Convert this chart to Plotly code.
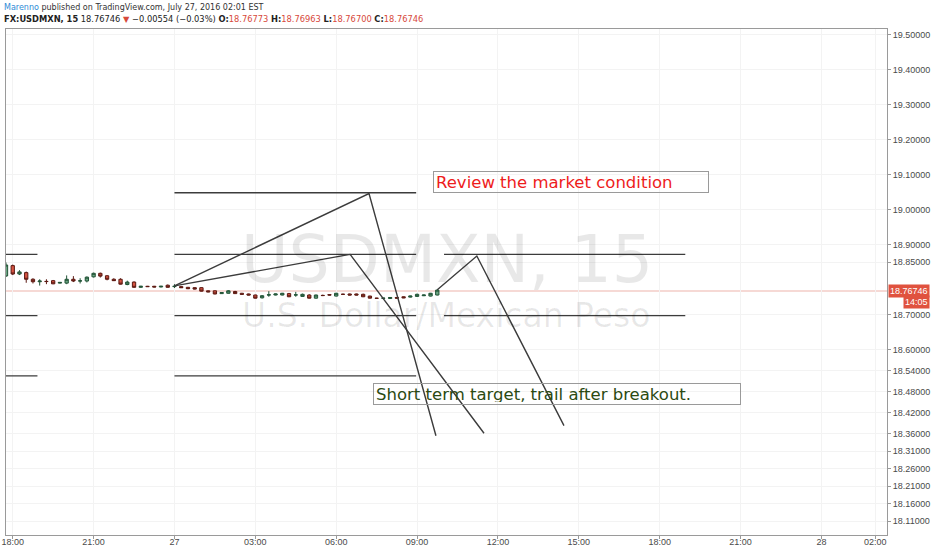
import plotly.graph_objects as go
import pandas as pd

# 15-minute USDMXN candles, Jul 26 17:45 -> Jul 27 09:45
bar_start = "2016-07-26 17:45"
opens = [18.8104, 18.840, 18.816, 18.820, 18.801, 18.794, 18.795, 18.797, 18.790, 18.790,
         18.801, 18.796, 18.796, 18.808, 18.818, 18.811, 18.801, 18.801, 18.786, 18.793,
         18.778, 18.781, 18.781, 18.779, 18.784, 18.780, 18.780, 18.778, 18.777, 18.777,
         18.768, 18.768, 18.760, 18.761, 18.766, 18.761, 18.759, 18.756, 18.748, 18.756,
         18.756, 18.756, 18.760, 18.756, 18.752, 18.756, 18.747, 18.755, 18.757, 18.753,
         18.758, 18.759, 18.759, 18.758, 18.753, 18.747, 18.7465, 18.746, 18.749, 18.751,
         18.750, 18.752, 18.754, 18.753, 18.756]
highs = [18.8490, 18.843, 18.827, 18.823, 18.804, 18.801, 18.801, 18.799, 18.793, 18.812,
         18.810, 18.804, 18.809, 18.820, 18.820, 18.813, 18.804, 18.804, 18.797, 18.795,
         18.782, 18.782, 18.782, 18.782, 18.786, 18.787, 18.781, 18.779, 18.778, 18.778,
         18.769, 18.769, 18.764, 18.770, 18.768, 18.762, 18.760, 18.757, 18.756, 18.767,
         18.760, 18.762, 18.762, 18.765, 18.760, 18.758, 18.757, 18.757, 18.758, 18.762,
         18.760, 18.760, 18.760, 18.760, 18.754, 18.748, 18.748, 18.750, 18.750, 18.752,
         18.754, 18.760, 18.757, 18.762, 18.773]
lows = [18.8075, 18.813, 18.813, 18.791, 18.789, 18.783, 18.787, 18.787, 18.789, 18.787,
        18.793, 18.789, 18.792, 18.806, 18.806, 18.798, 18.796, 18.786, 18.784, 18.777,
        18.777, 18.779, 18.778, 18.778, 18.777, 18.776, 18.776, 18.773, 18.772, 18.766,
        18.764, 18.758, 18.759, 18.760, 18.759, 18.757, 18.755, 18.746, 18.746, 18.751,
        18.755, 18.755, 18.750, 18.751, 18.751, 18.746, 18.746, 18.753, 18.755, 18.752,
        18.756, 18.755, 18.755, 18.750, 18.746, 18.745, 18.745, 18.745, 18.746, 18.747,
        18.749, 18.751, 18.753, 18.752, 18.755]
closes = [18.8418, 18.816, 18.822, 18.801, 18.794, 18.796, 18.7945, 18.788, 18.792, 18.801,
          18.796, 18.7965, 18.807, 18.818, 18.810, 18.801, 18.797, 18.787, 18.793, 18.778,
          18.781, 18.780, 18.779, 18.781, 18.778, 18.781, 18.777, 18.774, 18.773, 18.767,
          18.765, 18.759, 18.763, 18.768, 18.760, 18.758, 18.756, 18.747, 18.754, 18.7565,
          18.759, 18.761, 18.751, 18.7565, 18.758, 18.747, 18.756, 18.7545, 18.756, 18.761,
          18.758, 18.756, 18.756, 18.751, 18.747, 18.7465, 18.747, 18.749, 18.747, 18.748,
          18.753, 18.758, 18.756, 18.761, 18.770]
last_price = 18.76746

# horizontal levels drawn on the chart: (from, to, price)
level_lines = [
    ("2016-07-26 17:00", "2016-07-26 18:55", 18.872),
    ("2016-07-26 17:00", "2016-07-26 18:55", 18.697),
    ("2016-07-26 17:00", "2016-07-26 18:55", 18.525),
    ("2016-07-27 00:00", "2016-07-27 08:58", 19.048),
    ("2016-07-27 00:00", "2016-07-27 08:58", 18.872),
    ("2016-07-27 00:00", "2016-07-27 08:58", 18.697),
    ("2016-07-27 00:00", "2016-07-27 08:58", 18.525),
    ("2016-07-27 10:00", "2016-07-27 18:57", 18.872),
    ("2016-07-27 10:00", "2016-07-27 18:57", 18.697),
]

# projection paths (times, prices)
path_times = [
    ["2016-07-27 00:00", "2016-07-27 07:13", "2016-07-27 09:42"],
    ["2016-07-27 00:00", "2016-07-27 06:31", "2016-07-27 11:29"],
    ["2016-07-27 09:45", "2016-07-27 11:13", "2016-07-27 14:27"],
]
path_prices = [
    [18.782, 19.046, 18.354],
    [18.782, 18.872, 18.361],
    [18.771, 18.8675, 18.383],
]

note_review = ("2016-07-27 09:35", 19.080, "Review the market condition")
note_target = ("2016-07-27 07:22", 18.474, "Short term target, trail after breakout.")

x_tickvals = ["2016-07-26 18:00", "2016-07-26 21:00", "2016-07-27 00:00", "2016-07-27 03:00",
              "2016-07-27 06:00", "2016-07-27 09:00", "2016-07-27 12:00", "2016-07-27 15:00",
              "2016-07-27 18:00", "2016-07-27 21:00", "2016-07-28 00:00", "2016-07-28 02:00"]
x_ticktext = ["18:00", "21:00", "27", "03:00", "06:00", "09:00", "12:00", "15:00",
              "18:00", "21:00", "28", "02:00"]
y_tickvals = [19.5, 19.4, 19.3, 19.2, 19.1, 19.0, 18.9, 18.85, 18.7, 18.6, 18.54,
              18.48, 18.42, 18.36, 18.31, 18.26, 18.21, 18.16, 18.11]

times = pd.date_range(start=bar_start, periods=len(opens), freq="15min")

fig = go.Figure()

fig.add_trace(go.Candlestick(
    x=times, open=opens, high=highs, low=lows, close=closes,
    increasing=dict(fillcolor="#6ba583", line=dict(color="#225437", width=1)),
    decreasing=dict(fillcolor="#d75442", line=dict(color="#5b1a13", width=1)),
    hoverinfo="skip", showlegend=False,
))

line_style = dict(color="#3c3c3c", width=1.4)
for t0, t1, p in level_lines:
    fig.add_trace(go.Scatter(x=[t0, t1], y=[p, p], mode="lines", line=line_style,
                             hoverinfo="skip", showlegend=False))
for ts, ps in zip(path_times, path_prices):
    fig.add_trace(go.Scatter(x=ts, y=ps, mode="lines", line=line_style,
                             hoverinfo="skip", showlegend=False))

# last price line
fig.add_shape(type="line", xref="paper", x0=0, x1=1, y0=last_price, y1=last_price,
              line=dict(color="rgba(215,84,66,0.45)", width=1), layer="below")

# watermark
wm = "rgba(0,0,0,0.09)"
fig.add_annotation(text="USDMXN, 15", xref="paper", yref="paper", x=0.5, y=0.545,
                   showarrow=False, font=dict(family="DejaVu Sans", size=65, color=wm))
fig.add_annotation(text="U.S. Dollar/Mexican Peso", xref="paper", yref="paper", x=0.5, y=0.433,
                   showarrow=False, font=dict(family="DejaVu Sans", size=33, color=wm))

# text notes
fig.add_annotation(x=note_review[0], y=note_review[1], text=note_review[2], showarrow=False,
                   xanchor="left", yanchor="middle", align="left", width=270, height=16,
                   borderpad=2, bordercolor="#9a9a9a", borderwidth=1,
                   font=dict(family="DejaVu Sans", size=16.5, color="#ee1c1c"))
fig.add_annotation(x=note_target[0], y=note_target[1], text=note_target[2], showarrow=False,
                   xanchor="left", yanchor="middle", align="left", width=362, height=16,
                   borderpad=2, bordercolor="#9a9a9a", borderwidth=1,
                   font=dict(family="DejaVu Sans", size=16.5, color="#2b4a12"))

# header
fig.add_annotation(xref="paper", yref="paper", x=-0.004, y=1.043, xanchor="left", yanchor="middle",
                   showarrow=False, font=dict(family="DejaVu Sans", size=8, color="#333333"),
                   text="<span style='color:#2e8bd6'>Marenno</span> published on TradingView.com, "
                        "July 27, 2016 02:01 EST")
red = "#d7493b"
fig.add_annotation(xref="paper", yref="paper", x=-0.004, y=1.019, xanchor="left", yanchor="middle",
                   showarrow=False, font=dict(family="DejaVu Sans", size=8.3, color="#222222"),
                   text=f"<b>FX:USDMXN, 15</b> {last_price:.5f} <span style='color:{red}'>▼</span> "
                        f"−0.00554 (−0.03%) <b>O:</b><span style='color:{red}'>18.76773</span> "
                        f"<b>H:</b><span style='color:{red}'>18.76963</span> "
                        f"<b>L:</b><span style='color:{red}'>18.76700</span> "
                        f"<b>C:</b><span style='color:{red}'>{last_price:.5f}</span>")

# price tags on the right scale
fig.add_annotation(xref="paper", x=1.0, y=last_price, xanchor="left", yanchor="middle", xshift=1,
                   text=f"{last_price:.5f}", showarrow=False, bgcolor="#e0523f", borderpad=1,
                   font=dict(family="Liberation Sans", size=9, color="white"))
fig.add_annotation(xref="paper", x=1.0, y=last_price, xanchor="left", yanchor="middle", xshift=16,
                   yshift=-11, text="14:05", showarrow=False, bgcolor="#e0523f", borderpad=1,
                   font=dict(family="Liberation Sans", size=9, color="white"))

fig.update_layout(
    width=932, height=550,
    margin=dict(l=6, r=45, t=29, b=15),
    paper_bgcolor="white", plot_bgcolor="white",
    showlegend=False,
    xaxis=dict(
        type="date", range=["2016-07-26 17:45", "2016-07-28 02:26"],
        rangeslider=dict(visible=False), automargin=False,
        tickvals=x_tickvals, ticktext=x_ticktext,
        tickfont=dict(family="Liberation Sans", size=9, color="#4a4a4a"),
        ticks="outside", ticklen=3, tickcolor="#999999", ticklabelstandoff=-5,
        showgrid=True, gridcolor="#f3f3f3",
        showline=True, linecolor="#9a9a9a", mirror=True, zeroline=False,
    ),
    yaxis=dict(
        side="right", range=[18.0704, 19.516], automargin=False,
        tickvals=y_tickvals, tickformat=".5f",
        tickfont=dict(family="Liberation Sans", size=9, color="#4a4a4a"),
        ticks="outside", ticklen=3, tickcolor="#999999",
        showgrid=True, gridcolor="#f3f3f3",
        showline=True, linecolor="#9a9a9a", mirror=True, zeroline=False,
    ),
)

# drop the browser's default page margin so the 932x550 figure fills the window
fig.write_html("out.html", config={"displayModeBar": False},
               post_script="document.body.style.margin='0';")
